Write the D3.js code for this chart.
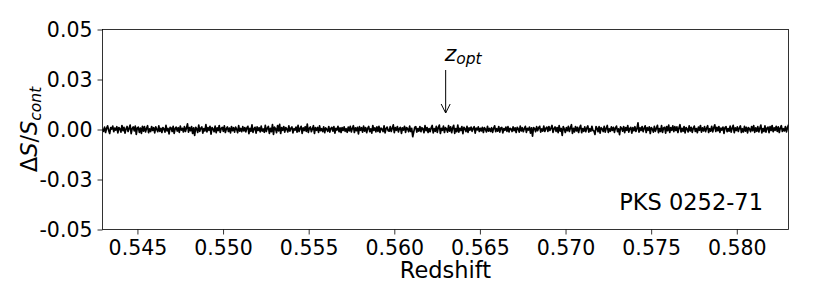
<!DOCTYPE html>
<html><head><meta charset="utf-8">
<script src="https://cdn.jsdelivr.net/npm/d3@7"></script>
<style>body{margin:0;background:#fff}svg{display:block}text{font-family:"DejaVu Sans",sans-serif}</style>
</head><body><svg id="c" width="830" height="288"></svg>
<script>
// Spectrum: redshift range and channel values (units of 1e-3 in dS/S_cont)
const zRange = [0.54296, 0.58302];
const fluxMilli = [
0.3,-0.9,1.2,-1.5,0.6,1.8,-0.4,-2.0,0.9,0.2,1.7,-1.1,0.7,-0.3,1.4,-1.7,1.0,0.4,-1.3,2.0,
-0.6,1.1,-1.8,0.3,1.5,-1.0,0.6,2.2,-2.1,0.4,1.3,-0.7,1.7,-2.4,0.8,1.2,-1.4,0.7,-1.9,1.6,
-0.8,1.4,-1.2,0.5,1.9,-1.6,0.3,-1.0,1.5,-0.5,0.9,-1.7,1.3,0.1,-1.1,1.8,-0.9,0.6,-1.5,1.0,
0.4,-1.3,2.1,-0.7,0.5,-2.2,1.1,0.8,-1.0,1.6,-1.9,0.5,1.2,-0.8,0.9,-1.4,1.7,-0.3,0.6,-1.2,
1.4,-1.0,0.7,2.8,-1.3,0.9,-0.6,1.5,-2.0,0.8,-2.9,1.1,0.4,-1.5,2.2,-0.9,0.6,1.3,-1.8,0.5,
-0.7,2.4,-1.2,0.9,-0.4,1.6,-2.3,1.0,0.3,-1.1,1.7,-1.6,0.8,-0.5,2.0,-1.4,0.6,1.1,-0.9,1.8,
-1.5,0.4,1.3,-1.0,0.7,-1.7,1.5,-0.6,0.9,-1.3,1.2,0.2,-1.6,1.9,-0.8,0.5,-1.1,1.4,-0.7,1.0,
-1.2,0.8,1.6,-2.1,0.6,-0.9,2.3,-1.4,0.4,1.1,-1.8,1.3,-0.5,0.9,-1.2,1.7,-0.8,0.3,-1.4,2.1,
-1.0,0.7,1.5,-1.9,0.6,-1.1,2.5,-2.4,1.2,0.4,-1.6,2.0,-0.7,2.6,-2.0,0.9,-0.4,1.5,-1.3,1.0,
0.3,-1.2,1.8,-0.8,0.6,1.3,-1.7,0.4,-0.3,1.2,-1.3,2.1,-1.0,0.5,1.6,-1.9,0.8,-0.5,1.4,-0.9,
2.7,-1.5,0.6,1.3,-1.1,0.3,1.9,-2.0,0.9,-0.4,1.0,-1.4,1.8,-0.6,0.4,-1.0,1.3,-1.6,0.8,0.1,
-0.9,1.5,-1.3,0.5,1.1,-0.8,1.4,-1.8,0.6,-0.3,1.6,-1.1,0.8,-1.5,1.0,-0.5,1.3,-0.9,0.4,-1.4,
1.2,-0.7,1.6,-1.2,0.5,1.9,-1.5,0.8,-0.6,1.1,-2.2,1.4,-0.4,0.9,-1.3,1.7,-0.8,1.0,-1.6,0.6,
1.5,-1.1,0.3,-1.8,2.0,-0.5,0.8,-1.2,1.3,-0.9,1.6,-1.4,0.7,0.2,-1.0,1.8,-1.7,0.5,1.2,-0.6,
-0.8,1.4,-1.0,0.6,2.3,-1.6,0.9,-0.4,1.5,-1.2,0.5,1.1,-1.9,0.8,-0.3,1.6,-1.4,1.0,0.4,-1.1,
1.7,-1.0,0.6,-3.6,-1.2,1.1,1.4,-1.3,0.5,-0.8,1.5,-1.1,0.9,0.3,-1.6,1.9,-0.6,1.0,-1.5,0.5,
-1.1,0.8,2.0,-1.7,0.4,-0.9,1.6,-1.4,1.0,2.2,-2.0,0.6,-0.4,1.7,-1.5,0.9,0.3,-1.3,1.9,-0.8,
1.3,-1.6,0.8,2.1,-1.9,0.5,-1.1,2.2,-1.3,0.6,-0.5,1.5,-2.1,1.1,0.4,-1.0,1.6,-1.4,0.8,-0.3,
1.2,-0.9,0.5,1.4,-1.8,0.7,-0.2,1.3,-1.0,0.6,-0.7,1.1,-1.5,0.9,0.2,-1.2,1.6,-0.8,0.5,-1.0,
0.9,-1.4,0.6,1.8,-1.1,0.4,-0.8,1.5,-1.3,0.7,1.0,-1.7,0.5,-0.4,1.2,-0.9,1.4,-1.2,0.6,0.3,
-1.0,1.3,-0.6,0.8,-1.5,1.1,0.4,-1.3,1.7,-0.7,0.9,-1.1,0.5,1.6,-1.4,0.6,-0.3,1.2,-1.8,0.8,
-3.3,1.0,0.5,-1.1,1.4,-0.6,0.9,1.6,-1.3,0.3,-0.8,1.7,-1.0,0.6,1.2,-0.9,1.5,-0.5,0.7,2.0,
-1.4,0.4,1.3,-0.9,1.0,-1.6,1.9,-0.8,0.5,-3.0,1.4,0.3,-1.5,0.9,-0.6,1.6,-1.0,0.8,2.4,-1.9,
0.6,-1.2,1.5,-0.7,1.1,-1.5,0.8,2.1,-1.6,0.5,-0.9,1.3,-1.1,0.7,1.8,-1.3,0.4,-0.8,1.6,-0.5,
-0.8,-2.5,1.5,0.5,-1.1,1.4,-1.8,0.9,0.3,-1.0,1.6,-1.3,0.6,2.0,-1.5,0.4,-0.9,1.3,-0.5,1.1,
-1.4,0.8,1.7,-1.1,0.3,-2.6,1.3,0.6,-0.8,1.5,-1.6,1.0,-0.4,1.9,-1.3,0.5,1.1,-1.8,0.9,-0.6,
1.4,-1.0,0.4,3.3,-1.3,0.8,-0.5,1.5,-1.1,0.6,1.8,-1.5,0.9,-0.4,1.3,-2.0,1.0,0.3,-1.3,1.6,
-0.9,0.6,2.1,-1.6,0.5,-1.0,1.9,-1.4,0.8,1.1,-1.8,1.5,-0.6,2.2,-1.5,0.9,-0.4,1.8,-1.1,1.4,
-0.5,1.3,-1.5,0.8,2.4,-1.2,0.6,-0.9,1.5,-1.7,1.0,0.3,-1.2,1.8,-0.7,1.1,-1.4,0.6,1.7,-1.0,
0.5,-1.6,1.2,-0.4,2.0,-1.3,0.8,-0.7,1.4,-1.1,0.6,1.9,-1.5,0.4,-0.8,1.6,-1.2,0.9,2.3,-1.0,
1.1,-0.6,1.5,-1.4,0.7,-0.3,1.2,-1.9,0.9,1.4,-1.1,0.5,-0.8,1.7,-1.3,0.6,2.1,-1.6,0.8,-0.5,
1.3,-1.0,0.7,1.8,-1.5,0.4,-1.2,1.6,-0.8,1.1,-1.7,0.9,0.2,-1.1,1.5,-0.6,1.9,-1.4,0.8,-0.9,
1.4,-1.2,0.6,2.2,-1.7,0.5,-1.0,1.8,-1.3,0.7,1.2,-1.6,1.4,-0.5,2.0,-1.1,0.8,-0.4,1.6,-0.9,
1.3,-1.5,0.7,1.9,-1.0,0.4,-0.7,1.5,-1.2,0.9,2.4
];
const xTicks = [0.545, 0.550, 0.555, 0.560, 0.565, 0.570, 0.575, 0.580];
const yTicks = [-0.05, -0.025, 0, 0.025, 0.05];
const yDomain = [-0.05, 0.05];
const zOpt = 0.563;
const sourceName = "PKS 0252-71";

const svg = d3.select("#c");
const L = 102.5, R = 788.5, T = 29.5, B = 229.5;
const x = d3.scaleLinear().domain(zRange).range([L, R]);
const y = d3.scaleLinear().domain(yDomain).range([B, T]);
const step = (zRange[1] - zRange[0]) / (fluxMilli.length - 1);
const data = fluxMilli.map((v, i) => ({z: zRange[0] + i * step, f: v / 1000}));

svg.append("clipPath").attr("id", "clip").append("rect")
  .attr("x", L).attr("y", T).attr("width", R - L).attr("height", B - T);

svg.append("path").datum(data)
  .attr("clip-path", "url(#clip)")
  .attr("fill", "none").attr("stroke", "#000").attr("stroke-width", 1.7)
  .attr("stroke-linejoin", "round")
  .attr("d", d3.line().x(d => x(d.z)).y(d => y(d.f)));

const fmt = f => d => d3.format(f)(d).replace("\u2212", "-");
const xAxis = svg.append("g").attr("transform", `translate(0,${B})`)
  .call(d3.axisBottom(x).tickValues(xTicks).tickFormat(fmt(".3f")).tickSize(5).tickPadding(5));
const yAxis = svg.append("g").attr("transform", `translate(${L},0)`)
  .call(d3.axisLeft(y).tickValues(yTicks).tickFormat(fmt(".2f")).tickSize(5).tickPadding(5));
[xAxis, yAxis].forEach(g => {
  g.select(".domain").remove();
  g.selectAll(".tick line").attr("stroke", "#000").attr("stroke-width", 0.8);
  g.selectAll(".tick text").attr("fill", "#000").style("font-size", "20.5px")
    .style("font-family", "'DejaVu Sans'");
});
xAxis.selectAll(".tick text").attr("dy", "0.75em");
yAxis.selectAll(".tick text").attr("dy", "0.36em");

svg.append("rect").attr("x", L).attr("y", T).attr("width", R - L).attr("height", B - T)
  .attr("fill", "none").attr("stroke", "#000").attr("stroke-width", 0.8);

svg.append("text").attr("x", (L + R) / 2).attr("y", 278).attr("text-anchor", "middle")
  .style("font-size", "22.5px").text("Redshift");

const yl = svg.append("text").attr("transform", `translate(37,${(T + B) / 2}) rotate(-90)`)
  .attr("text-anchor", "middle").style("font-size", "22.5px");
yl.append("tspan").text("Δ");
yl.append("tspan").style("font-style", "italic").text("S");
yl.append("tspan").text("/");
yl.append("tspan").style("font-style", "italic").text("S");
yl.append("tspan").style("font-style", "italic").style("font-size", "15.5px").attr("dy", 4).text("cont");

const xo = x(zOpt);
const zt = svg.append("text").attr("x", xo - 1).attr("y", 61).style("font-size", "22px");
zt.append("tspan").style("font-style", "italic").text("z");
zt.append("tspan").style("font-style", "italic").style("font-size", "15.5px").attr("dy", 3).text("opt");
svg.append("line").attr("x1", xo).attr("x2", xo).attr("y1", 70).attr("y2", 113)
  .attr("stroke", "#000").attr("stroke-width", 1);
svg.append("path").attr("d", `M${xo - 4.5},${104} L${xo},${113} L${xo + 4.5},${104}`)
  .attr("fill", "none").attr("stroke", "#000").attr("stroke-width", 1);

svg.append("text").attr("x", 763).attr("y", 210).attr("text-anchor", "end")
  .style("font-size", "22.5px").text(sourceName);
</script></body></html>
